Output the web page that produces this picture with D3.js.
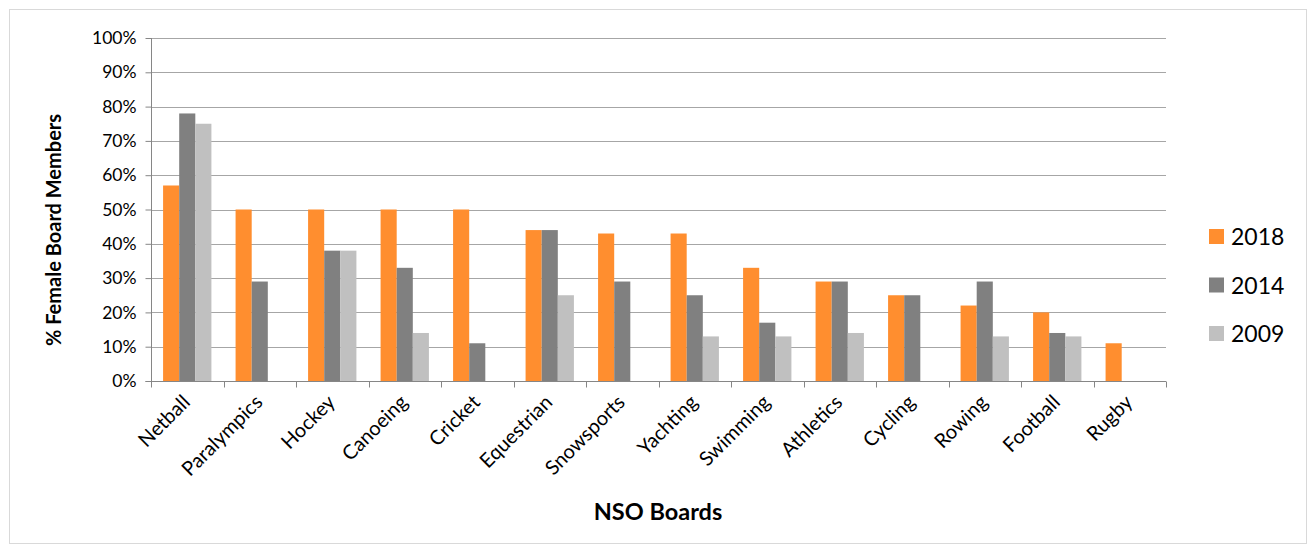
<!DOCTYPE html>
<html><head><meta charset="utf-8">
<script src="https://cdn.jsdelivr.net/npm/d3@7"></script>
<style>body{margin:0;background:#fff;} svg{display:block;font-family:Lato, "Open Sans", sans-serif;}</style>
</head><body>
<svg id="c" width="1314" height="553"></svg>
<script>
const categories = ["Netball","Paralympics","Hockey","Canoeing","Cricket","Equestrian","Snowsports","Yachting","Swimming","Athletics","Cycling","Rowing","Football","Rugby"];
const seriesNames = ["2018","2014","2009"];
const v2018 = [57,50,50,50,50,44,43,43,33,29,25,22,20,11];
const v2014 = [78,29,38,33,11,44,29,25,17,29,25,29,14,0];
const v2009 = [75,0,38,14,0,25,0,13,13,14,0,13,13,0];
const colors = ["#FF8E2F","#808080","#C0C0C0"];
const yTicks = [0,10,20,30,40,50,60,70,80,90,100];

const svg = d3.select("#c");
svg.append("rect").attr("x",9.5).attr("y",9.5).attr("width",1297).attr("height",534)
  .attr("fill","#fff").attr("stroke","#d9d9d9");

const L=151, R=1166, T=38, B=381;
const x = d3.scaleBand().domain(categories).range([L,R]).paddingInner(0).paddingOuter(0);
const y = d3.scaleLinear().domain([0,100]).range([B,T]);
const series = [v2018,v2014,v2009];
const barW = x.bandwidth()/ (3+1.5);
const xs = d3.scaleBand().domain(seriesNames).range([barW*0.75, barW*0.75+barW*3]);

// gridlines
svg.append("g").selectAll("line").data(yTicks.slice(1)).join("line")
  .attr("x1",L).attr("x2",R).attr("y1",d=>Math.round(y(d))+0.5).attr("y2",d=>Math.round(y(d))+0.5)
  .attr("stroke","#a6a6a6").attr("stroke-width",1.2);

// bars
series.forEach((vals,si)=>{
  svg.append("g").selectAll("rect").data(categories).join("rect")
    .attr("x",(d)=>x(d)+xs(seriesNames[si]))
    .attr("width",barW)
    .attr("y",(d,i)=>y(vals[i]))
    .attr("height",(d,i)=>y(0)-y(vals[i]))
    .attr("fill",colors[si]);
});

// y axis
const ya = svg.append("g").attr("transform",`translate(${L+0.5},0)`)
  .call(d3.axisLeft(y).tickValues(yTicks).tickFormat(d=>d+"%").tickSize(6).tickPadding(9));
ya.select(".domain").attr("stroke","#868686").attr("d",`M-6,${B+0.5}H0V${T}`);
ya.selectAll(".tick line").attr("stroke","#868686");
ya.selectAll("text").attr("font-size",17.5).attr("fill","#000").attr("font-family","Lato, sans-serif");

// x axis
const xa = svg.append("g").attr("transform",`translate(0,${B+0.5})`);
xa.append("line").attr("x1",L).attr("x2",R).attr("stroke","#868686").attr("stroke-width",1.2);
const bounds = categories.map(c=>x(c)).concat([R]);
xa.selectAll("line.tk").data(bounds).join("line").attr("class","tk")
  .attr("x1",d=>Math.round(d)+0.5).attr("x2",d=>Math.round(d)+0.5).attr("y1",0).attr("y2",6).attr("stroke","#868686");
xa.selectAll("text").data(categories).join("text")
  .attr("transform",d=>`translate(${x(d)+x.bandwidth()/2+4},${22}) rotate(-45)`)
  .attr("text-anchor","end").attr("font-size",20).attr("fill","#000").text(d=>d);

// axis titles
svg.append("text").attr("transform","translate(61,230) rotate(-90)").attr("text-anchor","middle")
  .attr("font-size",20).attr("font-weight","bold").attr("fill","#000").text("% Female Board Members");
svg.append("text").attr("x",658).attr("y",520).attr("text-anchor","middle")
  .attr("font-size",23.5).attr("font-weight","bold").attr("fill","#000").text("NSO Boards");

// legend
const lg = svg.append("g");
seriesNames.forEach((n,i)=>{
  const yy = 229 + i*48.5;
  lg.append("rect").attr("x",1209).attr("y",yy).attr("width",15).attr("height",15).attr("fill",colors[i]);
  lg.append("text").attr("x",1231).attr("y",yy+16).attr("font-size",23).attr("fill","#000").text(n);
});
</script>
</body></html>
